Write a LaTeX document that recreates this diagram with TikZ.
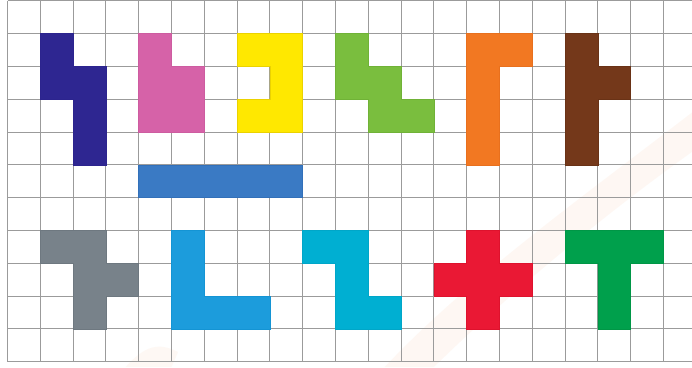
\documentclass[tikz,border=0pt]{standalone}
\usepackage{tikz}

\begin{document}
\begin{tikzpicture}[x=0.8cm,y=0.8cm,
  gridline/.style={draw={rgb, 255:red, 155; green, 155; blue, 155}, line width=0.7pt},
  tile/.style={line width=0.4pt, line join=miter}]
%set diagram size to the reference frame
\useasboundingbox (-0.229,-0.159) rectangle (20.869,11.03);
\fill [white] (-0.229,-0.159) rectangle (20.869,11.03);

%Shape: faint background stroke
\fill [fill={rgb, 255:red, 245; green, 160; blue, 110}, fill opacity=0.08] (11.5,-0.159) .. controls (14,2.5) and (17.5,5) .. (20.869,7.6) -- (20.869,6.4) .. controls (17.8,4.2) and (15,1.8) .. (13,-0.159) -- cycle ;
\fill [fill={rgb, 255:red, 245; green, 160; blue, 110}, fill opacity=0.07] (3.6,-0.159) .. controls (4.2,0.5) and (4.6,0.6) .. (5.2,0.3) -- (5,-0.159) -- cycle ;

%Grid
\draw [gridline] (0,0) -- (0,11) ;
\foreach \gx in {1,...,20} {\draw [gridline] (\gx,0) -- (\gx,11) ;}
\foreach \gy in {0,...,11} {\draw [gridline] (0,\gy) -- (20.869,\gy) ;}

%Shape: N pentomino
\draw [tile, draw={rgb, 255:red, 44; green, 36; blue, 142}, fill={rgb, 255:red, 46; green, 38; blue, 145}] (1,10) -- (2,10) -- (2,9) -- (3,9) -- (3,6) -- (2,6) -- (2,8) -- (1,8) -- cycle ;
%Shape: P pentomino
\draw [tile, draw={rgb, 255:red, 205; green, 92; blue, 160}, fill={rgb, 255:red, 214; green, 98; blue, 168}] (4,10) -- (5,10) -- (5,9) -- (6,9) -- (6,7) -- (4,7) -- cycle ;
%Shape: U pentomino
\draw [tile, draw={rgb, 255:red, 235; green, 210; blue, 0}, fill={rgb, 255:red, 255; green, 232; blue, 0}] (7,10) -- (9,10) -- (9,7) -- (7,7) -- (7,8) -- (8,8) -- (8,9) -- (7,9) -- cycle ;
%Shape: W pentomino
\draw [tile, draw={rgb, 255:red, 112; green, 178; blue, 55}, fill={rgb, 255:red, 122; green, 190; blue, 62}] (10,10) -- (11,10) -- (11,9) -- (12,9) -- (12,8) -- (13,8) -- (13,7) -- (11,7) -- (11,8) -- (10,8) -- cycle ;
%Shape: L pentomino
\draw [tile, draw={rgb, 255:red, 232; green, 112; blue, 30}, fill={rgb, 255:red, 242; green, 120; blue, 34}] (14,10) -- (16,10) -- (16,9) -- (15,9) -- (15,6) -- (14,6) -- cycle ;
%Shape: Y pentomino
\draw [tile, draw={rgb, 255:red, 105; green, 50; blue, 22}, fill={rgb, 255:red, 116; green, 56; blue, 26}] (17,10) -- (18,10) -- (18,9) -- (19,9) -- (19,8) -- (18,8) -- (18,6) -- (17,6) -- cycle ;
%Shape: I pentomino
\draw [tile, draw={rgb, 255:red, 50; green, 112; blue, 185}, fill={rgb, 255:red, 58; green, 122; blue, 196}] (4,5) rectangle (9,6) ;

%Shape: F pentomino
\draw [tile, draw={rgb, 255:red, 110; green, 120; blue, 128}, fill={rgb, 255:red, 120; green, 130; blue, 138}] (1,4) -- (3,4) -- (3,3) -- (4,3) -- (4,2) -- (3,2) -- (3,1) -- (2,1) -- (2,3) -- (1,3) -- cycle ;
%Shape: V pentomino
\draw [tile, draw={rgb, 255:red, 20; green, 148; blue, 212}, fill={rgb, 255:red, 28; green, 156; blue, 220}] (5,4) -- (6,4) -- (6,2) -- (8,2) -- (8,1) -- (5,1) -- cycle ;
%Shape: Z pentomino
\draw [tile, draw={rgb, 255:red, 0; green, 166; blue, 200}, fill={rgb, 255:red, 0; green, 175; blue, 210}] (9,4) -- (11,4) -- (11,2) -- (12,2) -- (12,1) -- (10,1) -- (10,3) -- (9,3) -- cycle ;
%Shape: X pentomino
\draw [tile, draw={rgb, 255:red, 222; green, 18; blue, 45}, fill={rgb, 255:red, 234; green, 24; blue, 52}] (14,4) -- (15,4) -- (15,3) -- (16,3) -- (16,2) -- (15,2) -- (15,1) -- (14,1) -- (14,2) -- (13,2) -- (13,3) -- (14,3) -- cycle ;
%Shape: T pentomino
\draw [tile, draw={rgb, 255:red, 0; green, 150; blue, 70}, fill={rgb, 255:red, 0; green, 160; blue, 76}] (17,4) -- (20,4) -- (20,3) -- (19,3) -- (19,1) -- (18,1) -- (18,3) -- (17,3) -- cycle ;

\end{tikzpicture}
\end{document}
